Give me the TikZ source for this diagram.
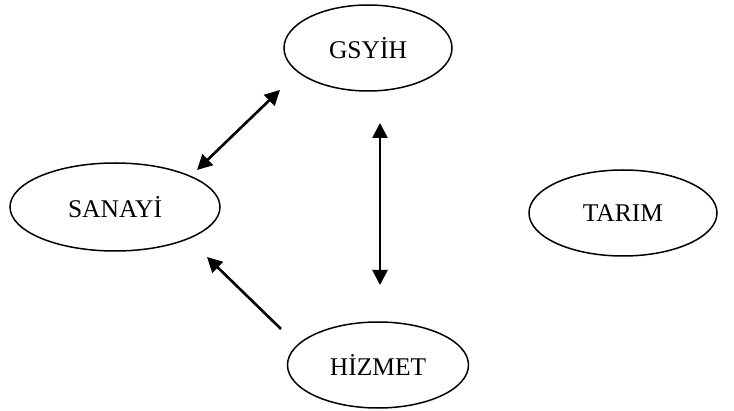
\documentclass[tikz,border=0pt]{standalone}
\usepackage{fontspec}
\setmainfont{Liberation Serif}
\usetikzlibrary{shapes.geometric,arrows.meta}
\begin{document}
\begin{tikzpicture}[x=1pt,y=-1pt,
  oval/.style={draw, line width=1.5pt, ellipse, font=\fontsize{25.5}{30}\selectfont},
  conn/.style={line width=2.6pt, -{Triangle[length=15pt,width=15pt]}},
  biconn/.style={line width=2.6pt, {Triangle[length=15pt,width=15pt]}-{Triangle[length=15pt,width=15pt]}}]
\useasboundingbox (0,0) rectangle (734,411);
\node[oval, minimum width=168pt, minimum height=86pt] (g) at (368,48) {GSYİH};
\node[oval, minimum width=210pt, minimum height=88pt] (s) at (115,207) {SANAYİ};
\node[oval, minimum width=188pt, minimum height=86pt] (t) at (623,213) {TARIM};
\node[oval, minimum width=181pt, minimum height=86pt] (h) at (378,365) {HİZMET};
\coordinate (a1) at (197,170);
\coordinate (a2) at (280,90);
\coordinate (b1) at (380,123);
\coordinate (b2) at (380,285);
\coordinate (c1) at (281,329);
\coordinate (c2) at (207,257);
\draw[biconn] (a1) -- (a2);
\draw[biconn] (b1) -- (b2);
\draw[conn] (c1) -- (c2);
\end{tikzpicture}
\end{document}
